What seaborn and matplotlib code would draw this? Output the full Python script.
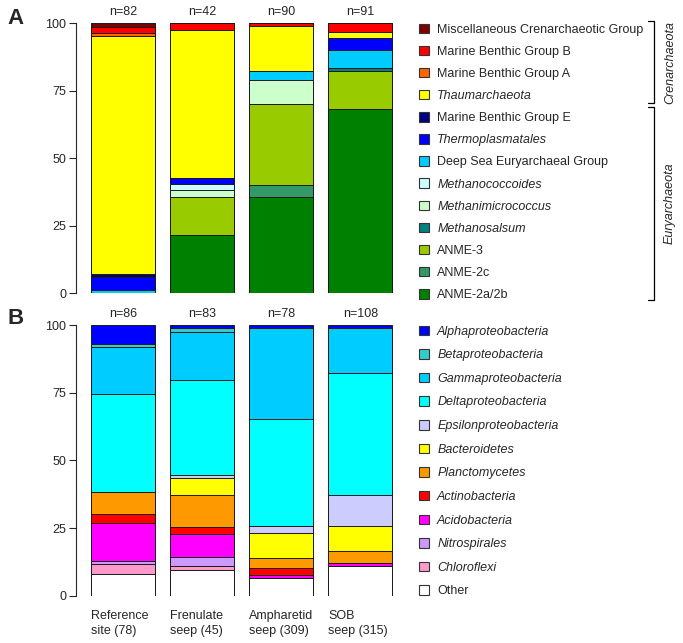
import numpy as np
import pandas as pd
import matplotlib
matplotlib.use("Agg")
import matplotlib.pyplot as plt
from matplotlib.patches import Patch
from matplotlib.lines import Line2D
import seaborn as sns

# sites (x axis)
sites = ["Reference\nsite (78)", "Frenulate\nseep (45)", "Ampharetid\nseep (309)", "SOB\nseep (315)"]

# --- panel A: archaea (clone counts, bottom -> top of bar) ---
arch_n = [82, 42, 90, 91]
arch_groups = ["ANME-2a/2b", "ANME-2c", "ANME-3", "Methanosalsum", "Methanimicrococcus",
               "Methanococcoides", "Deep Sea Euryarchaeal Group", "Thermoplasmatales",
               "Marine Benthic Group E", "Thaumarchaeota", "Marine Benthic Group A",
               "Marine Benthic Group B", "Miscellaneous Crenarchaeotic Group"]
arch_italic = [False, False, False, True, True, True, False, True, False, True, False, False, False]
arch_colors = ["#008000", "#339966", "#99cc00", "#008080", "#ccffcc", "#ccffff", "#00ccff",
               "#0000ff", "#000080", "#ffff00", "#ff6600", "#ff0000", "#800000"]
arch_counts = [
    [0, 9, 32, 62],   # ANME-2a/2b
    [0, 0, 4, 0],     # ANME-2c
    [0, 6, 27, 13],   # ANME-3
    [0, 0, 0, 1],     # Methanosalsum
    [0, 1, 8, 0],     # Methanimicrococcus
    [0, 1, 0, 0],     # Methanococcoides
    [1, 0, 3, 6],     # DSEG
    [4, 1, 0, 4],     # Thermoplasmatales
    [1, 0, 0, 0],     # MBG-E
    [72, 23, 15, 2],  # Thaumarchaeota
    [1, 0, 0, 0],     # MBG-A
    [2, 1, 1, 3],     # MBG-B
    [1, 0, 0, 0],     # MCG
]

# --- panel B: bacteria ---
bact_n = [86, 83, 78, 108]
bact_groups = ["Other", "Chloroflexi", "Nitrospirales", "Acidobacteria", "Actinobacteria",
               "Planctomycetes", "Bacteroidetes", "Epsilonproteobacteria", "Deltaproteobacteria",
               "Gammaproteobacteria", "Betaproteobacteria", "Alphaproteobacteria"]
bact_italic = [False] + [True] * 11
bact_colors = ["#ffffff", "#ff99cc", "#cc99ff", "#ff00ff", "#ff0000", "#ff9900", "#ffff00",
               "#ccccff", "#00ffff", "#00ccff", "#33cccc", "#0000ff"]
bact_counts = [
    [7, 8, 5, 12],     # Other
    [3, 1, 0, 0],      # Chloroflexi
    [1, 3, 0, 0],      # Nitrospirales
    [12, 7, 1, 1],     # Acidobacteria
    [3, 2, 2, 0],      # Actinobacteria
    [7, 10, 3, 5],     # Planctomycetes
    [0, 5, 7, 10],     # Bacteroidetes
    [0, 1, 2, 12],     # Epsilon
    [31, 29, 31, 49],  # Delta
    [15, 15, 26, 18],  # Gamma
    [1, 1, 0, 0],      # Beta
    [6, 1, 1, 1],      # Alpha
]

sns.set_style("ticks")
plt.rcParams["font.family"] = ["Liberation Sans", "DejaVu Sans"]
FS = 9

W, H = 683, 643
fig = plt.figure(figsize=(W / 100, H / 100), dpi=100)


def px(x, y):
    return x / W, 1 - y / H


axA = fig.add_axes([76 / W, (H - 293.3) / H, (395 - 76) / W, 270 / H])
axB = fig.add_axes([76 / W, (H - 595.7) / H, (395 - 76) / W, 270.7 / H])

BW = 0.81


def stacked(ax, counts, colors, ns):
    pct = np.array(counts, float) / np.array(ns, float) * 100
    cum = np.cumsum(pct, axis=0)
    for k in range(len(colors) - 1, -1, -1):
        df = pd.DataFrame({"site": sites, "pct": cum[k]})
        sns.barplot(data=df, x="site", y="pct", order=sites, color=colors[k], saturation=1,
                    width=BW, edgecolor="#1a1a1a", linewidth=0.7, errorbar=None, ax=ax)
    ax.set_xlim(-0.595, 3.437)
    ax.set_ylim(0, 100)
    for s in ["top", "right", "bottom"]:
        ax.spines[s].set_visible(False)
    ax.spines["left"].set_bounds(0, 100)
    ax.spines["left"].set_linewidth(0.8)
    ax.set_yticks([0, 25, 50, 75, 100])
    ax.tick_params(axis="y", length=5, width=0.8, labelsize=FS, pad=2)
    ax.set_xlabel("")
    ax.set_ylabel("")
    for i, n in enumerate(ns):
        ax.text(i, 102.0, f"n={n}", ha="center", va="bottom", fontsize=FS)


def legend(ax, groups, colors, italic, anchor_y, spacing):
    handles = [Patch(facecolor=c, edgecolor="#333333", linewidth=0.8) for c in colors][::-1]
    leg = fig.legend(handles, groups[::-1], loc="upper left", bbox_to_anchor=px(419, anchor_y),
                     frameon=False, fontsize=FS, handlelength=0.8, handleheight=0.8,
                     handletextpad=0.65, labelspacing=spacing, borderpad=0, borderaxespad=0)
    for t, it in zip(leg.get_texts(), italic[::-1]):
        if it:
            t.set_style("italic")


stacked(axA, arch_counts, arch_colors, arch_n)
axA.set_xticks([])

stacked(axB, bact_counts, bact_colors, bact_n)
axB.set_xticks([i - BW / 2 for i in range(4)])
axB.set_xticklabels(sites, ha="left", va="top", linespacing=1.35)
axB.tick_params(axis="x", length=0, labelsize=FS, pad=10)

legend(axA, arch_groups, arch_colors, arch_italic, 23.5, 0.8)
legend(axB, bact_groups, bact_colors, bact_italic, 325.5, 0.92)

# panel letters
fig.text(*px(16, 18), "A", fontsize=16, fontweight="bold", ha="center", va="center")
fig.text(*px(16, 319), "B", fontsize=16, fontweight="bold", ha="center", va="center")


# brackets for the archaeal phyla
def bracket(y0, y1, label):
    xs = [648, 654, 654, 648]
    ys = [y0, y0, y1, y1]
    fig.add_artist(Line2D([x / W for x in xs], [1 - y / H for y in ys],
                          transform=fig.transFigure, color="black", linewidth=0.9))
    fig.text(*px(670, (y0 + y1) / 2), label, rotation=90, style="italic", fontsize=FS,
             ha="center", va="center")


bracket(20.7, 103.3, "Crenarchaeota")
bracket(107.3, 300, "Euryarchaeota")

fig.savefig("out.png", dpi=100)
